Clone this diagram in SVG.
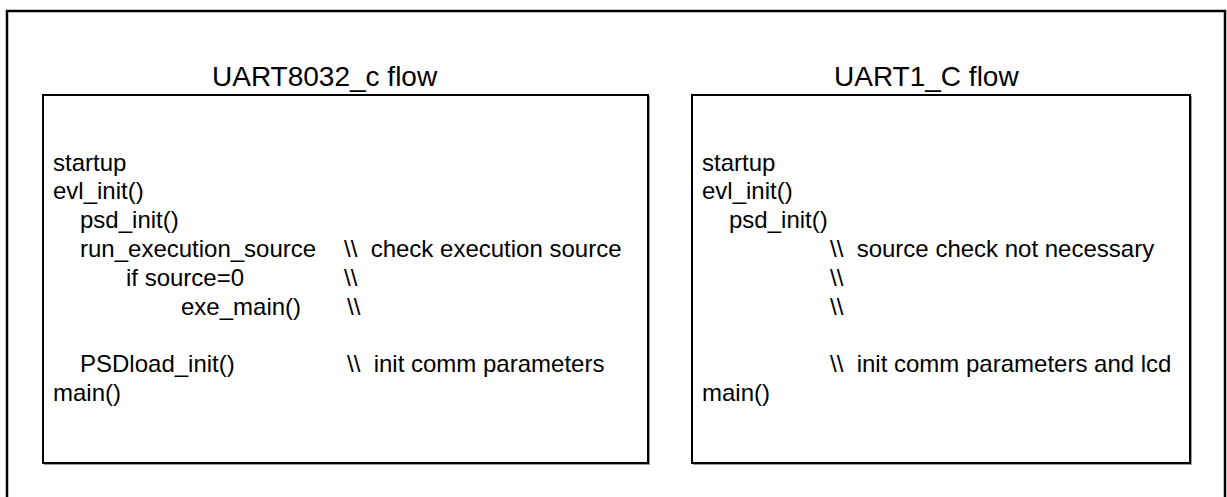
<svg xmlns="http://www.w3.org/2000/svg" width="1227" height="497" viewBox="0 0 1227 497">
<style>
.frame{fill:none;stroke:#000;stroke-width:2.5}
.box{fill:#fff;stroke:#000;stroke-width:2}
.shadow{fill:none;stroke:#9a9a9a;stroke-width:1}
.title{font-family:"Liberation Sans",Arial,sans-serif;font-size:28px;fill:#000}
.t{font-family:"Liberation Sans",Arial,sans-serif;font-size:24px;fill:#000;white-space:pre}
</style>
<rect width="1227" height="497" fill="#fff"/>
<rect class="frame" x="7" y="11" width="1218" height="500"/>
<g id="uart8032">
<text class="title" x="212" y="86">UART8032_c flow</text>
<rect class="shadow" x="44.5" y="96.5" width="605" height="368"/>
<rect class="box" x="43" y="95" width="605" height="368"/>
<text class="t" x="53" y="170.5">startup</text>
<text class="t" x="53" y="199.3">evl_init()</text>
<text class="t" x="80" y="228.1">psd_init()</text>
<text class="t" x="80" y="256.9">run_execution_source</text>
<text class="t" x="344" y="256.9" xml:space="preserve">\\  check execution source</text>
<text class="t" x="126" y="285.7">if source=0</text>
<text class="t" x="344" y="285.7">\\</text>
<text class="t" x="181" y="314.5">exe_main()</text>
<text class="t" x="347" y="314.5">\\</text>
<text class="t" x="80" y="372.1">PSDload_init()</text>
<text class="t" x="347" y="372.1" xml:space="preserve">\\  init comm parameters</text>
<text class="t" x="53" y="400.9">main()</text>
</g>
<g id="uart1">
<text class="title" x="834" y="86">UART1_C flow</text>
<rect class="shadow" x="693.5" y="96.5" width="498" height="368"/>
<rect class="box" x="692" y="95" width="498" height="368"/>
<text class="t" x="702" y="170.5">startup</text>
<text class="t" x="702" y="199.3">evl_init()</text>
<text class="t" x="729" y="228.1">psd_init()</text>
<text class="t" x="830" y="256.9" xml:space="preserve">\\  source check not necessary</text>
<text class="t" x="830" y="285.7">\\</text>
<text class="t" x="830" y="314.5">\\</text>
<text class="t" x="830" y="372.1" xml:space="preserve">\\  init comm parameters and lcd</text>
<text class="t" x="702" y="400.9">main()</text>
</g>
<g id="connectors"/>
</svg>
